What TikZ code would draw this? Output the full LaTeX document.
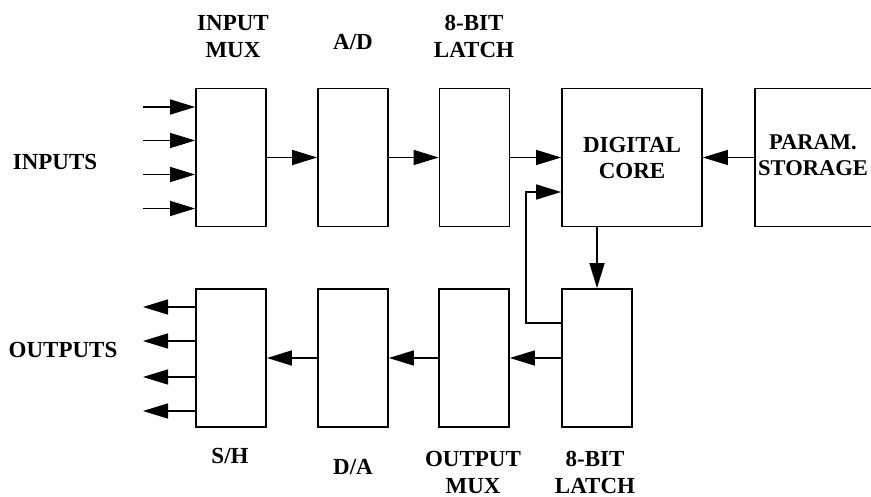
\documentclass[tikz,border=0pt]{standalone}
\usepackage{fontspec}
\setmainfont{Liberation Serif}
\usetikzlibrary{arrows.meta}
\begin{document}
\begin{tikzpicture}[x=1pt,y=-1pt,
  blk/.style={draw,line width=1.7pt,minimum width=70pt,minimum height=138pt,inner sep=0pt},
  bigblk/.style={draw,line width=1.7pt,minimum width=140pt,minimum height=138pt,inner sep=0pt,align=center,
     font=\fontsize{23}{26}\selectfont\bfseries},
  lbl/.style={align=center,inner sep=0pt,font=\fontsize{23}{27}\selectfont\bfseries},
  arr/.style={line width=1.4pt,-{Triangle[length=25pt,width=15pt]}},
  ln/.style={line width=1.4pt}]
\useasboundingbox (0,0) rectangle (871,497);
\clip (0,0) rectangle (871,497);
% blocks
\node[blk] (imux) at (231,157.5) {};
\node[blk] (ad) at (353,157.5) {};
\node[blk] (latA) at (474.5,157.5) {};
\node[bigblk] (core) at (632,157.5) {DIGITAL\\CORE};
\node[bigblk,anchor=west,minimum width=140pt] (param) at (754,157.5) {};
\node[lbl,font=\fontsize{22.5}{26}\selectfont\bfseries] (lparam) at (813,155.5) {PARAM.\\STORAGE};
\node[blk] (sh) at (231,358) {};
\node[blk] (da) at (353,358) {};
\node[blk] (omux) at (474,358) {};
\node[blk] (latB) at (597,358) {};
% labels
\node[lbl] (limux) at (233,36.5) {INPUT\\MUX};
\node[lbl] (lad) at (353,42) {A/D};
\node[lbl] (llatA) at (474,36.5) {8-BIT\\LATCH};
\node[lbl] (lsh) at (230,456) {S/H};
\node[lbl] (lda) at (353,467) {D/A};
\node[lbl] (lomux) at (473,472) {OUTPUT\\MUX};
\node[lbl] (llatB) at (595,472) {8-BIT\\LATCH};
\node[lbl] (linputs) at (55,162) {INPUTS};
\node[lbl] (loutputs) at (63,350) {OUTPUTS};
% inputs
\foreach \i/\y in {1/107,2/140.5,3/174.5,4/208.5}{
  \coordinate (in\i) at (143,\y);
  \draw[arr] (in\i) -- (in\i -| imux.west);
}
% outputs
\foreach \i/\y in {1/307,2/341,3/377,4/411}{
  \coordinate (out\i) at (143,\y);
  \draw[arr] (out\i -| sh.west) -- (out\i);
}
% top chain
\draw[arr] (imux.east) -- (ad.west);
\draw[arr] (ad.east) -- (latA.west);
\draw[arr] (latA.east) -- (latA.east -| core.west);
\draw[arr] (param.west) -- (core.east);
% core to latch
\draw[arr] (latB.north |- core.south) -- (latB.north);
% feedback
\draw[arr] ([yshift=35pt]latB.west) -- ++(-35,0) |- ([yshift=-34.5pt]core.west);
% bottom chain
\draw[arr] (latB.west) -- (omux.east);
\draw[arr] (omux.west) -- (da.east);
\draw[arr] (da.west) -- (sh.east);
\end{tikzpicture}
\end{document}
